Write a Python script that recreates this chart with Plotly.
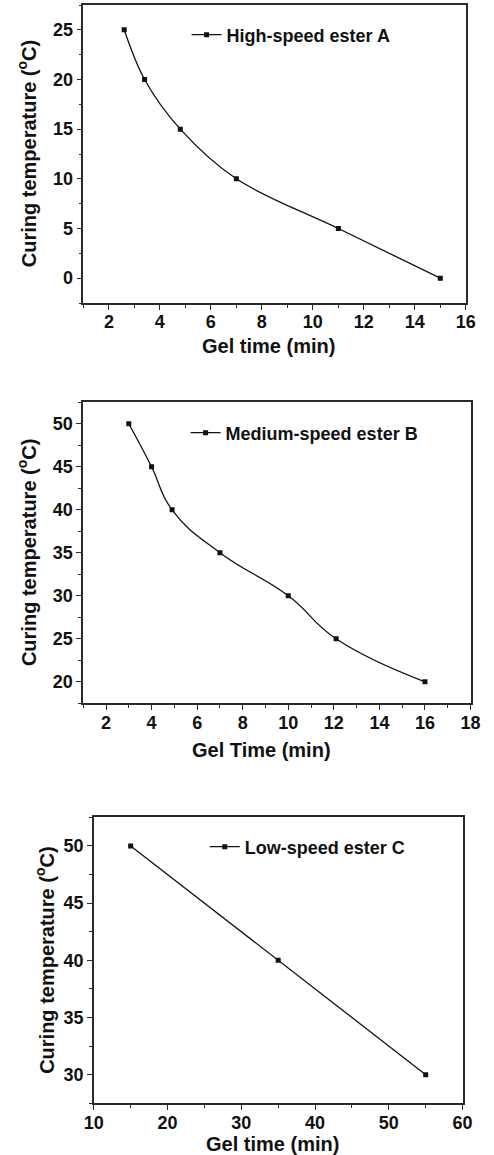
import plotly.graph_objects as go

# Gel time (min) vs curing temperature (°C) for three ester curing agents
gel_time_a = [2.6, 3.4, 4.8, 7.0, 11.0, 15.0]
temp_a = [25, 20, 15, 10, 5, 0]

gel_time_b = [3.0, 4.0, 4.9, 7.0, 10.0, 12.1, 16.0]
temp_b = [50, 45, 40, 35, 30, 25, 20]

gel_time_c = [15, 35, 55]
temp_c = [50, 40, 30]

# tick values per panel
x_ticks_a = [2, 4, 6, 8, 10, 12, 14, 16]
y_ticks_a = [0, 5, 10, 15, 20, 25]
x_ticks_b = [2, 4, 6, 8, 10, 12, 14, 16, 18]
y_ticks_b = [20, 25, 30, 35, 40, 45, 50]
x_ticks_c = [10, 20, 30, 40, 50, 60]
y_ticks_c = [30, 35, 40, 45, 50]

names = ["High-speed ester A", "Medium-speed ester B", "Low-speed ester C"]
x_titles = ["Gel time (min)", "Gel Time (min)", "Gel time (min)"]
y_title = "Curing temperature (<sup>o</sup>C)"

W, H = 494, 1155
FONT = "Liberation Sans, Arial, sans-serif"
INK = "#111111"
AXIS = "#2a2a2a"


def px_x(p):
    return p / W


def px_y(p):
    return 1 - p / H


def bold_labels(vals):
    return ["<b>%g</b>" % v for v in vals]


fig = go.Figure()

series = [
    (gel_time_a, temp_a, "spline", 1.0),
    (gel_time_b, temp_b, "spline", 1.3),
    (gel_time_c, temp_c, "linear", 1.0),
]
for i, (xs, ys, shape, smooth) in enumerate(series):
    suffix = "" if i == 0 else str(i + 1)
    fig.add_trace(go.Scatter(
        x=xs, y=ys, name="<b>" + names[i] + "</b>",
        mode="lines+markers",
        line=dict(color=INK, width=1.3, shape=shape, smoothing=smooth),
        marker=dict(symbol="square", size=5, color=INK),
        xaxis="x" + suffix, yaxis="y" + suffix,
        legend="legend" + suffix,
    ))

# panel boxes in pixels: (left, right, top, bottom)
boxes = [(76.5, 475, 5, 303), (76.3, 480, 402.3, 703.3), (87.3, 471.7, 817.3, 1103.3)]
x_ranges = [[1, 16], [1, 18], [10, 60]]
y_ranges = [[-2.5, 27.5], [17.5, 52.5], [27.5, 52.5]]
x_ticks = [x_ticks_a, x_ticks_b, x_ticks_c]
y_ticks = [y_ticks_a, y_ticks_b, y_ticks_c]
x_minor = [1, 1, 5]
y_minor = [2.5, 2.5, 2.5]

tick_font = dict(family=FONT, size=18, color=INK)

layout = {}
for i in range(3):
    suffix = "" if i == 0 else str(i + 1)
    l, r, t, b = boxes[i]
    common = dict(
        showgrid=False, zeroline=False,
        showline=True, linecolor=AXIS, linewidth=1.5, mirror=True,
        ticks="outside", ticklen=5, tickwidth=1.3, tickcolor=AXIS,
        tickfont=tick_font, tickmode="array",
    )
    layout["xaxis" + suffix] = dict(
        common, domain=[px_x(l), px_x(r)], range=x_ranges[i],
        tickvals=x_ticks[i], ticktext=bold_labels(x_ticks[i]),
        anchor="y" + suffix, ticklabelstandoff=-3,
        minor=dict(dtick=x_minor[i], tick0=0, ticks="outside", ticklen=3,
                   tickwidth=1.2, tickcolor=AXIS, showgrid=False),
    )
    layout["yaxis" + suffix] = dict(
        common, domain=[px_y(b), px_y(t)], range=y_ranges[i],
        tickvals=y_ticks[i], ticktext=bold_labels(y_ticks[i]),
        anchor="x" + suffix,
        minor=dict(dtick=y_minor[i], tick0=0, ticks="outside", ticklen=3,
                   tickwidth=1.2, tickcolor=AXIS, showgrid=False),
    )

# legend placement (left edge, vertical centre) in pixels
legend_pos = [(184, 35), (183, 433), (203, 847)]
for i, (lx, ly) in enumerate(legend_pos):
    suffix = "" if i == 0 else str(i + 1)
    layout["legend" + suffix] = dict(
        x=px_x(lx), y=px_y(ly), xanchor="left", yanchor="middle",
        bgcolor="rgba(0,0,0,0)", borderwidth=0,
        font=dict(family=FONT, size=18, color=INK),
    )

annotations = []
# y-axis titles: centre x in pixels
y_title_x = [18, 18, 36]
# x-axis titles: centre (x, y) in pixels
x_title_pos = [(269.5, 346), (262, 750), (274, 1144)]
for i in range(3):
    l, r, t, b = boxes[i]
    annotations.append(dict(
        text="<b>" + y_title + "</b>", textangle=-90,
        x=px_x(y_title_x[i]), y=px_y((t + b) / 2), xref="paper", yref="paper",
        xanchor="center", yanchor="middle", showarrow=False,
        font=dict(family=FONT, size=20, color=INK),
    ))
    xx, yy = x_title_pos[i]
    annotations.append(dict(
        text="<b>" + x_titles[i] + "</b>",
        x=px_x(xx), y=px_y(yy), xref="paper", yref="paper",
        xanchor="center", yanchor="middle", showarrow=False,
        font=dict(family=FONT, size=20, color=INK),
    ))

fig.update_layout(
    width=W, height=H,
    margin=dict(l=0, r=0, t=0, b=0),
    paper_bgcolor="white", plot_bgcolor="white",
    showlegend=True,
    annotations=annotations,
    **layout,
)

fig.write_html("out.html")
